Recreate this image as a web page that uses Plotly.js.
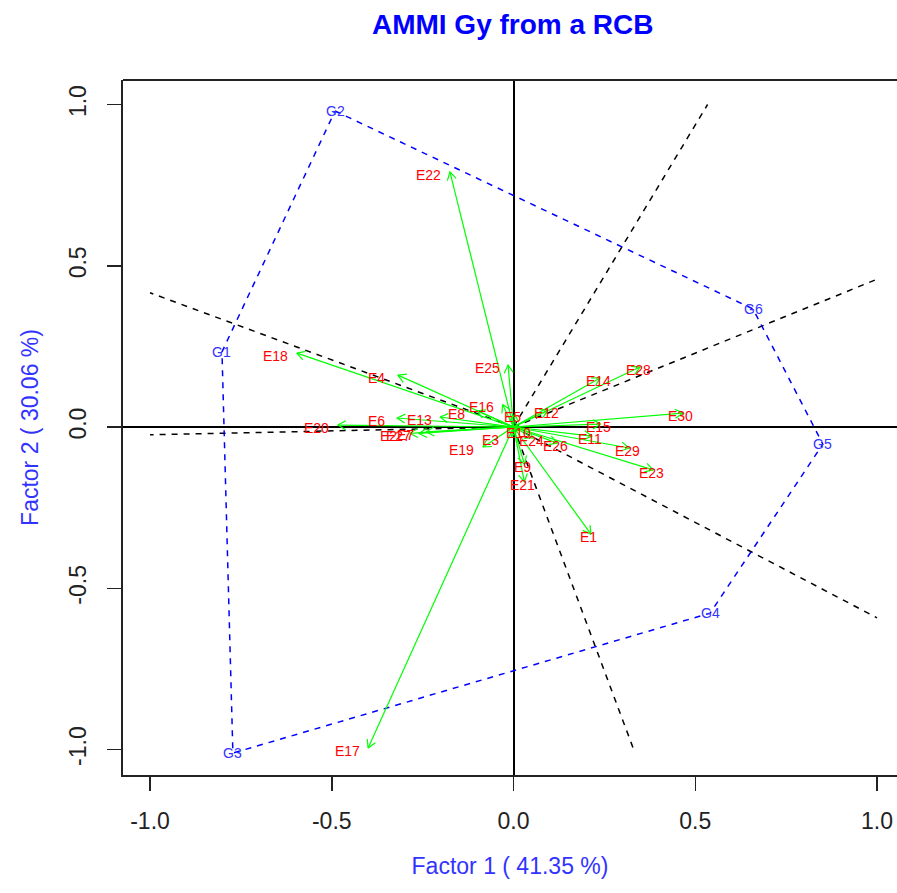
<!DOCTYPE html>
<html><head><meta charset="utf-8">
<script src="https://cdn.plot.ly/plotly-3.0.1.min.js"></script>
<style>body{margin:0;background:#fff}</style>
</head><body><div id="chart" style="width:897px;height:893px"></div>
<script>
// Genotype scores (polygon vertices)
const genoNames = ["G1","G2","G3","G4","G5","G6"];
const genoX = [-0.802, -0.491, -0.772, 0.541, 0.851, 0.659];
const genoY = [0.233, 0.980, -1.011, -0.577, -0.053, 0.366];
const hullOrder = ["G2","G6","G5","G4","G3","G1"];

// Environment scores (arrow tips)
const envNames = ["E1","E2","E3","E4","E5","E6","E7","E8","E9","E10",
                  "E11","E12","E13","E14","E15","E16","E17","E18","E19","E20",
                  "E21","E22","E23","E24","E25","E26","E27","E28","E29","E30"];
const envX = [0.213,-0.285,-0.005,-0.318,0.004,-0.320,-0.240,-0.100,0.030,0.020,
              0.216,0.095,-0.202,0.238,0.240,-0.030,-0.400,-0.596,-0.084,-0.483,
              0.030,-0.175,0.384,0.054,-0.015,0.120,-0.260,0.348,0.318,0.466];
const envY = [-0.332,-0.020,-0.030,0.161,0.040,0.028,-0.015,0.050,-0.115,-0.010,
              -0.028,0.053,0.031,0.152,0.009,0.070,-0.995,0.229,-0.062,0.006,
              -0.170,0.791,-0.133,-0.034,0.192,-0.050,-0.020,0.186,-0.065,0.043];

const tickVals = [-1, -0.5, 0, 0.5, 1];
const tickText = ["-1.0","-0.5","0.0","0.5","1.0"];

const xRange = [-1.0743, 1.0550];
const yRange = [-1.079, 1.076];
const W = 897, H = 893, mL = 123, mR = 0, mT = 80, mB = 118;
const kx = (W - mL - mR) / (xRange[1] - xRange[0]);
const ky = (H - mT - mB) / (yRange[1] - yRange[0]);

// polygon
const gx = n => genoX[genoNames.indexOf(n)];
const gy = n => genoY[genoNames.indexOf(n)];
const polyX = hullOrder.map(gx).concat([gx(hullOrder[0])]);
const polyY = hullOrder.map(gy).concat([gy(hullOrder[0])]);

// rays perpendicular to hull edges
const rayX = [], rayY = [];
for (let i = 0; i < hullOrder.length; i++) {
  const a = hullOrder[i], b = hullOrder[(i + 1) % hullOrder.length];
  const ax = gx(a), ay = gy(a), bx = gx(b), by = gy(b);
  const ex = bx - ax, ey = by - ay;
  const t = -(ax * ex + ay * ey) / (ex * ex + ey * ey);
  const fx = ax + t * ex, fy = ay + t * ey;
  const s = 1 / Math.max(Math.abs(fx), Math.abs(fy));
  rayX.push(0, fx * s, null); rayY.push(0, fy * s, null);
}

// arrows
const arrX = [], arrY = [];
const head = 9, ang = Math.PI / 6;
for (let i = 0; i < envNames.length; i++) {
  const x = envX[i], y = envY[i];
  const dx = x * kx, dy = y * ky, L = Math.hypot(dx, dy);
  arrX.push(0, x, null); arrY.push(0, y, null);
  const ux = -dx / L, uy = -dy / L;
  const pts = [ang, -ang].map(a => [ux * Math.cos(a) - uy * Math.sin(a), ux * Math.sin(a) + uy * Math.cos(a)]);
  arrX.push(x + pts[0][0] * head / kx, x, x + pts[1][0] * head / kx, null);
  arrY.push(y + pts[0][1] * head / ky, y, y + pts[1][1] * head / ky, null);
}

const traces = [
  {x: rayX, y: rayY, mode: "lines", line: {color: "black", width: 1.5, dash: "6px,6px"}, hoverinfo: "skip"},
  {x: polyX, y: polyY, mode: "lines", line: {color: "blue", width: 1.5, dash: "6px,6px"}, hoverinfo: "skip"},
  {x: arrX, y: arrY, mode: "lines", line: {color: "#00FF00", width: 1.2}, hoverinfo: "skip"}
];

const annotations = [];
envNames.forEach((n, i) => {
  annotations.push({x: envX[i], y: envY[i], text: n, showarrow: false,
    xshift: envX[i] < 0 ? -21 : -2, yshift: -3,
    font: {family: "Liberation Sans, Arial, sans-serif", size: 14, color: "#FF0000"}});
});
genoNames.forEach((n, i) => {
  annotations.push({x: genoX[i], y: genoY[i], text: n, showarrow: false,
    font: {family: "Liberation Sans, Arial, sans-serif", size: 14, color: "#3333FF"}});
});

const layout = {
  width: W, height: H,
  margin: {l: mL, r: mR, t: mT, b: mB, autoexpand: false},
  paper_bgcolor: "white", plot_bgcolor: "white",
  showlegend: false,
  font: {family: "Liberation Sans, Arial, sans-serif", color: "#222"},
  title: {text: "<b>AMMI Gy from a RCB</b>", x: 0.5716, xanchor: "center", y: 0.973, yanchor: "middle",
          font: {size: 28, color: "#0000FF", family: "Liberation Sans, Arial, sans-serif"}},
  xaxis: {range: xRange, tickvals: tickVals, ticktext: tickText, showgrid: false,
          zeroline: true, zerolinecolor: "black", zerolinewidth: 2,
          showline: true, linecolor: "#222", linewidth: 2, mirror: false,
          ticks: "outside", ticklen: 14, tickwidth: 1.5, tickcolor: "#222",
          tickfont: {size: 23, color: "#222"}, ticklabelstandoff: 10,
          title: {text: "Factor 1 ( 41.35 %)", font: {size: 23, color: "#3333FF"}, standoff: 25},
          automargin: false, fixedrange: true},
  yaxis: {range: yRange, tickvals: tickVals, ticktext: tickText, showgrid: false,
          zeroline: true, zerolinecolor: "black", zerolinewidth: 2,
          showline: true, linecolor: "#222", linewidth: 2, mirror: false,
          ticks: "outside", ticklen: 14, tickwidth: 1.5, tickcolor: "#222",
          tickangle: -90, tickfont: {size: 23, color: "#222"}, ticklabelstandoff: 12,
          title: {text: "Factor 2 ( 30.06 %)", font: {size: 23, color: "#3333FF"}, standoff: 20},
          automargin: false, fixedrange: true},
  shapes: [{type: "line", xref: "paper", yref: "paper", x0: 0, x1: 1, y0: 1, y1: 1,
            line: {color: "#222", width: 2}}],
  annotations: annotations
};

Plotly.newPlot("chart", traces, layout, {displayModeBar: false, staticPlot: true});
</script>
</body></html>
